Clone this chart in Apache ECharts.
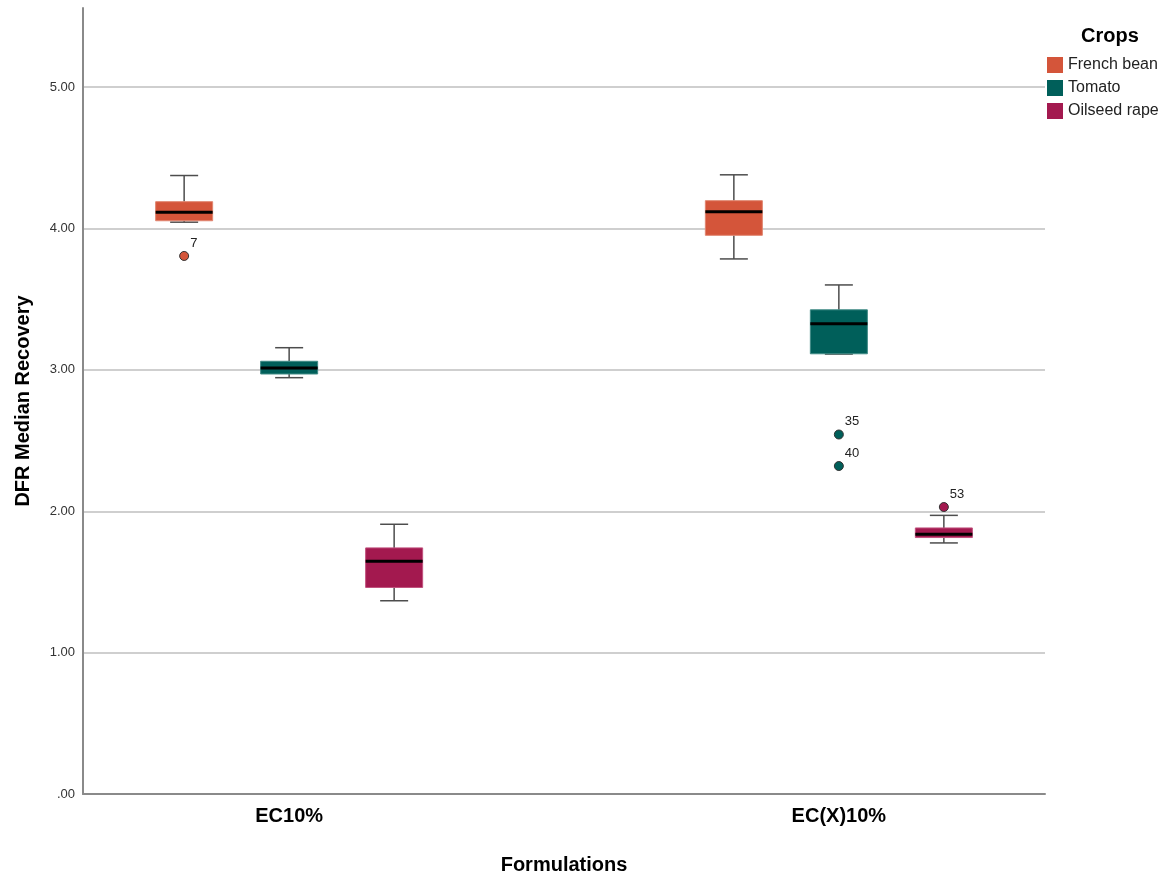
<!DOCTYPE html>
<html>
<head>
<meta charset="utf-8">
<script src="https://cdn.jsdelivr.net/npm/echarts@6/dist/echarts.min.js"></script>
<style>
html,body{margin:0;padding:0;background:#fff;}
#chart{width:1170px;height:880px;}
</style>
</head>
<body>
<div id="chart"></div>
<script>
// ---- Data ----
const categories = ['EC10%', 'EC(X)10%'];
const crops = ['French bean', 'Tomato', 'Oilseed rape'];
const yTicks = [0, 1, 2, 3, 4, 5];
// [min, Q1, median, Q3, max] for EC10% and EC(X)10%
const frenchBean = [[4.045, 4.055, 4.115, 4.19, 4.375], [3.785, 3.952, 4.119, 4.197, 4.38]];
const tomato = [[2.945, 2.971, 3.013, 3.061, 3.157], [3.112, 3.114, 3.326, 3.425, 3.601]];
const oilseedRape = [[1.367, 1.461, 1.646, 1.741, 1.908], [1.776, 1.814, 1.837, 1.882, 1.971]];
// outliers: [formulation index, value, case label]
const frenchBeanOutliers = [[0, 3.806, '7']];
const tomatoOutliers = [[1, 2.543, '35'], [1, 2.320, '40']];
const oilseedRapeOutliers = [[1, 2.030, '53']];

// ---- Styles ----
const FONT = "'Liberation Sans', Arial, sans-serif";
const colors = ['#D4553A', '#005F5A', '#A3194F'];
const borders = ['#E0856F', '#3F8A85', '#C0517D'];
const offsets = [-105, 0, 105];
const BOX_HALF = 28.5;
const CAP_HALF = 14;

function boxRenderer(k) {
  return function (params, api) {
    const g = api.value(0);
    const px = api.coord([g, api.value(1)]);
    const x = px[0] + offsets[k];
    const yMin = px[1];
    const yQ1 = api.coord([g, api.value(2)])[1];
    const yMed = api.coord([g, api.value(3)])[1];
    const yQ3 = api.coord([g, api.value(4)])[1];
    const yMax = api.coord([g, api.value(5)])[1];
    const ws = { stroke: '#4d4d4d', lineWidth: 1.5 };
    return {
      type: 'group',
      children: [
        { type: 'line', shape: { x1: x, y1: yMax, x2: x, y2: yQ3 }, style: ws },
        { type: 'line', shape: { x1: x, y1: yMin, x2: x, y2: yQ1 }, style: ws },
        { type: 'line', shape: { x1: x - CAP_HALF, y1: yMax, x2: x + CAP_HALF, y2: yMax }, style: ws },
        { type: 'line', shape: { x1: x - CAP_HALF, y1: yMin, x2: x + CAP_HALF, y2: yMin }, style: ws },
        { type: 'rect', shape: { x: x - BOX_HALF, y: yQ3, width: BOX_HALF * 2, height: Math.max(yQ1 - yQ3, 1) },
          style: { fill: colors[k], stroke: borders[k], lineWidth: 1 } },
        { type: 'line', shape: { x1: x - BOX_HALF, y1: yMed, x2: x + BOX_HALF, y2: yMed },
          style: { stroke: '#000', lineWidth: 3 } }
      ]
    };
  };
}

function outlierRenderer(k) {
  return function (params, api) {
    const p = api.coord([api.value(0), api.value(1)]);
    const x = p[0] + offsets[k];
    const y = p[1];
    return {
      type: 'group',
      children: [
        { type: 'circle', shape: { cx: x, cy: y, r: 4.5 },
          style: { fill: colors[k], stroke: '#333', lineWidth: 1 } },
        { type: 'text', x: x + 6, y: y - 13,
          style: { text: String(api.value(2)), fill: '#222', font: '13px ' + FONT,
            verticalAlign: 'middle', align: 'left' } }
      ]
    };
  };
}

const boxData = [frenchBean, tomato, oilseedRape];
const outData = [frenchBeanOutliers, tomatoOutliers, oilseedRapeOutliers];

const series = [];
crops.forEach(function (name, k) {
  series.push({
    name: name,
    type: 'custom',
    renderItem: boxRenderer(k),
    itemStyle: { color: colors[k] },
    encode: { x: 0, y: [1, 2, 3, 4, 5] },
    data: boxData[k].map(function (v, g) { return [g].concat(v); }),
    z: 3
  });
});
crops.forEach(function (name, k) {
  series.push({
    name: name,
    type: 'custom',
    renderItem: outlierRenderer(k),
    itemStyle: { color: colors[k] },
    dimensions: ['g', 'v', { name: 'lab', type: 'ordinal' }],
    encode: { x: 0, y: 1 },
    data: outData[k],
    z: 4
  });
});

const chart = echarts.init(document.getElementById('chart'), null, { renderer: 'canvas' });
chart.setOption({
  animation: false,
  backgroundColor: '#fff',
  textStyle: { fontFamily: FONT },
  title: {
    text: 'Crops', left: 1076, top: 21,
    textStyle: { fontSize: 20, fontWeight: 'bold', color: '#000', fontFamily: FONT }
  },
  legend: {
    data: crops, orient: 'vertical', left: 1047, top: 57,
    icon: 'rect', itemWidth: 16, itemHeight: 16, itemGap: 7, padding: 0,
    textStyle: { fontSize: 16, color: '#222', fontFamily: FONT }
  },
  grid: { left: 83, right: 125, top: 8, bottom: 84, containLabel: false },
  xAxis: {
    type: 'value', min: -0.375, max: 1.375,
    name: 'Formulations', nameLocation: 'middle', nameGap: 61,
    nameTextStyle: { fontSize: 20, fontWeight: 'bold', color: '#000', fontFamily: FONT },
    axisLine: { show: true, onZero: false, lineStyle: { color: '#8a8a8a', width: 2 } },
    axisTick: { show: false },
    splitLine: { show: false },
    axisLabel: {
      customValues: [0, 1], margin: 12,
      fontSize: 20, fontWeight: 'bold', color: '#000', fontFamily: FONT,
      formatter: function (v) { return categories[Math.round(v)] || ''; }
    }
  },
  yAxis: {
    type: 'value', min: 0, max: 5.56, interval: 1,
    name: 'DFR Median Recovery', nameLocation: 'middle', nameGap: 50, nameRotate: 90,
    nameTextStyle: { fontSize: 20, fontWeight: 'bold', color: '#000', fontFamily: FONT },
    axisLine: { show: true, onZero: false, lineStyle: { color: '#8a8a8a', width: 2 } },
    axisTick: { show: false },
    splitLine: { show: true, showMinLine: false, showMaxLine: false, lineStyle: { color: '#cfcfcf', width: 2 } },
    axisLabel: {
      customValues: yTicks, margin: 8, fontSize: 13, color: '#333', fontFamily: FONT,
      formatter: function (v) { return v === 0 ? '.00' : v.toFixed(2); }
    }
  },
  series: series
});
</script>
</body>
</html>
